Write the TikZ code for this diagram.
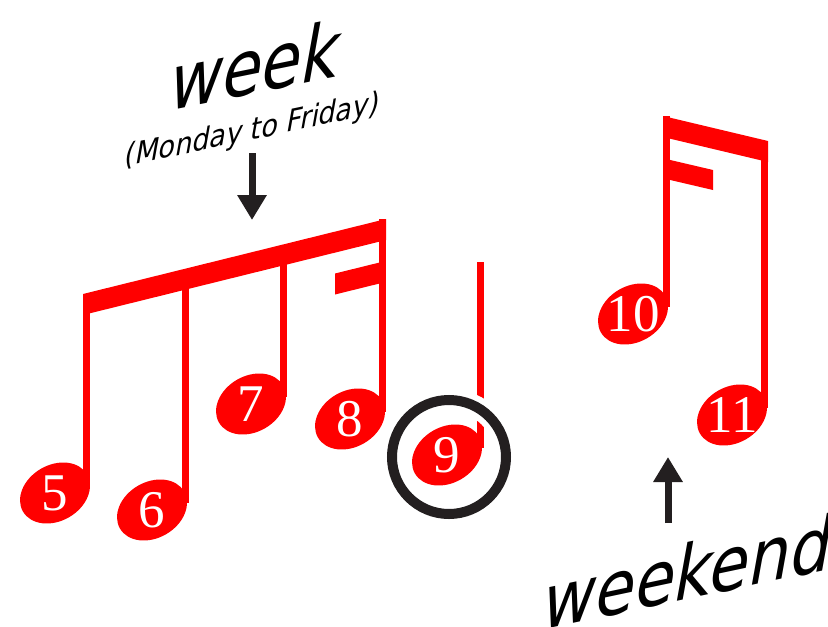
\documentclass[tikz,border=0pt]{standalone}
\usepackage{fontspec}
\setmainfont{Liberation Serif}
\newfontfamily\lbl{DejaVu Sans}
\usetikzlibrary{arrows.meta,shapes.geometric}
\definecolor{nr}{RGB}{255,0,0}
\definecolor{ink}{RGB}{35,31,32}
\begin{document}
\begin{tikzpicture}[x=1pt,y=-1pt]
\tikzstyle{hd} = [ellipse,fill=nr,inner sep=0pt,minimum width=74pt,minimum height=56pt,rotate=30] %note head
\tikzstyle{nm} = [text=white,inner sep=0pt,font=\fontsize{53}{53}\selectfont] %number
\tikzstyle{st} = [nr,line width=7pt] %stem
\tikzstyle{bm} = [fill=nr] %beam
\tikzstyle{rg} = [circle,draw=white,line width=6pt,double=ink,double distance=10pt,minimum size=114pt,inner sep=0pt] %ring
\tikzstyle{ar} = [ink,line width=7pt,-{Triangle[length=25pt,width=28pt]}] %arrow
\tikzstyle{tx} = [inner sep=0pt,anchor=base,xslant=0.18] %label
\useasboundingbox(0,0)rectangle(828,627);
\draw[st](86.5,294)--(86.5,486);
\draw[st](185,280)--(185,503);
\draw[st](283,255)--(283,397);
\draw[st](382,219)--(382,412);
\draw[st](480,262)--(480,448);
\draw[st](666.5,116)--(666.5,307);
\draw[st](764.5,141)--(764.5,408);
\fill[bm](83,294)--(386,219)--(386,240)--(83,315)--cycle;
\fill[bm](335,273.5)--(382,261.9)--(382,282.9)--(335,294.5)--cycle;
\fill[bm](663,116)--(768,141)--(768,162)--(663,137)--cycle;
\fill[bm](666,159)--(713,170)--(713,190)--(666,179)--cycle;
\node[rg](r9)at(449,457){};
\node[hd](h5)at(55,493){};
\node[hd](h6)at(152,510){};
\node[hd](h7)at(251,404){};
\node[hd](h8)at(350,419){};
\node[hd](h9)at(447,455){};
\node[hd](h10)at(633,314){};
\node[hd](h11)at(732,415){};
\node[nm](n5)at(h5){5};
\node[nm](n6)at(h6){6};
\node[nm](n7)at(h7){7};
\node[nm](n8)at(h8){8};
\node[nm](n9)at(h9){9};
\node[nm](n10)at(h10){10};
\node[nm](n11)at(h11){11};
\node[tx,yslant=0.21,yscale=1.28,font=\lbl\fontsize{62}{62}\selectfont](wk)at(251,94){week};
\node[tx,yslant=0.22,yscale=1.2,font=\lbl\fontsize{26}{26}\selectfont](mf)at(251,140){(Monday to Friday)};
\node[tx,yslant=0.22,yscale=1.25,font=\lbl\fontsize{62}{62}\selectfont](we)at(684,600){weekend};
\coordinate(wa)at(252,153);
\coordinate(wb)at(252,220);
\draw[ar](wa)--(wb);
\coordinate(ea)at(668,523);
\coordinate(eb)at(668,457);
\draw[ar](ea)--(eb);
\end{tikzpicture}
\end{document}
